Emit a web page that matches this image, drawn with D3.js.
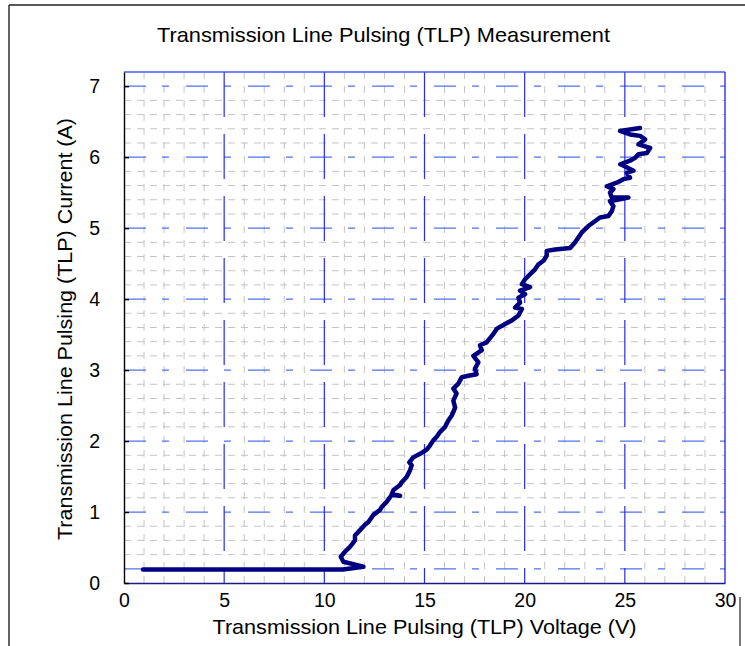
<!DOCTYPE html>
<html>
<head>
<meta charset="utf-8">
<script src="https://cdn.jsdelivr.net/npm/d3@7"></script>
<style>
  html, body { margin: 0; padding: 0; background: #fff; }
  svg { display: block; }
  text { font-family: "Liberation Sans", Arial, sans-serif; fill: #000; }
</style>
</head>
<body>
<svg id="chart" width="745" height="646"></svg>
<script>
// ---- data ----
const voltage = [0.95, 10.93, 11.95, 10.95, 10.82, 11.03, 11.28, 11.53, 11.53, 11.70, 12.03, 12.2, 12.45, 12.78, 12.86, 13.1, 13.36, 13.78, 13.36, 13.45, 13.78, 13.86, 14.1, 14.28, 14.36, 14.24, 14.44, 14.78, 15.11, 15.28, 15.44, 15.61, 15.78, 16.03, 16.19, 16.36, 16.53, 16.44, 16.6, 16.44, 16.69, 16.86, 17.19, 17.6, 17.52, 17.69, 17.44, 17.86, 17.77, 18.1, 18.44, 18.6, 19.02, 19.36, 19.69, 19.86, 19.52, 19.77, 19.69, 20.02, 19.77, 20.27, 19.86, 20.02, 20.27, 20.52, 20.69, 20.94, 21.1, 21.1, 21.52, 22.27, 22.52, 22.85, 23.18, 23.52, 23.76, 24.18, 24.35, 24.43, 24.26, 25.18, 24.35, 24.26, 24.43, 24.1, 24.6, 24.93, 25.26, 25.1, 25.43, 24.94, 24.77, 25.26, 25.51, 25.68, 26.1, 26.26, 25.93, 25.68, 26.01, 25.76, 25.26, 24.76, 25.26, 25.76];
const current = [0.19, 0.19, 0.23, 0.30, 0.37, 0.44, 0.51, 0.60, 0.67, 0.72, 0.82, 0.86, 0.96, 1.03, 1.07, 1.14, 1.24, 1.23, 1.25, 1.31, 1.38, 1.42, 1.49, 1.59, 1.66, 1.70, 1.77, 1.82, 1.88, 1.94, 2.01, 2.06, 2.13, 2.20, 2.29, 2.36, 2.47, 2.57, 2.67, 2.74, 2.81, 2.90, 2.92, 2.94, 3.02, 3.11, 3.20, 3.28, 3.35, 3.39, 3.51, 3.58, 3.65, 3.70, 3.77, 3.86, 3.88, 3.95, 4.02, 4.07, 4.12, 4.17, 4.21, 4.28, 4.35, 4.42, 4.49, 4.54, 4.61, 4.68, 4.70, 4.72, 4.80, 4.94, 5.03, 5.10, 5.15, 5.17, 5.24, 5.31, 5.38, 5.43, 5.43, 5.50, 5.55, 5.59, 5.64, 5.69, 5.71, 5.78, 5.81, 5.88, 5.90, 5.95, 5.99, 6.04, 6.06, 6.13, 6.16, 6.18, 6.25, 6.30, 6.32, 6.37, 6.39, 6.41];
const xTicks = [0, 5, 10, 15, 20, 25, 30];
const yTicks = [0, 1, 2, 3, 4, 5, 6, 7];
const xMajorGrid = [5, 10, 15, 20, 25];
const yMajorGrid = [0.2, 1, 2, 3, 4, 5, 6, 7];
const titleText = "Transmission Line Pulsing (TLP) Measurement";
const xLabelText = "Transmission Line Pulsing (TLP) Voltage (V)";
const yLabelText = "Transmission Line Pulsing (TLP) Current (A)";

// ---- layout ----
const L = 124, R = 725, T = 72, B = 583;
const svg = d3.select("#chart");
const x = d3.scaleLinear().domain([0, 30]).range([L, R]);
const y = d3.scaleLinear().domain([0, 7.2]).range([B, T]);

// outer frame
svg.append("line").attr("x1", 9).attr("x2", 9).attr("y1", 5).attr("y2", 646)
  .attr("stroke", "#222").attr("stroke-width", 1.4);
svg.append("line").attr("x1", 9).attr("x2", 745).attr("y1", 5).attr("y2", 5)
  .attr("stroke", "#222").attr("stroke-width", 1.4);
svg.append("line").attr("x1", 740).attr("x2", 740).attr("y1", 597).attr("y2", 646)
  .attr("stroke", "#222").attr("stroke-width", 1.2);

// minor grid (gray dashed)
const xMinor = d3.range(1, 30).filter(v => v % 5 !== 0);
const yMinor = d3.range(1, 36).map(k => k * 0.2).filter(v => Math.abs(v - Math.round(v)) > 0.01 && Math.abs(v - 0.2) > 0.01);
const grid = svg.append("g");
grid.selectAll("line.vmin").data(xMinor).join("line")
  .attr("x1", d => x(d)).attr("x2", d => x(d)).attr("y1", T).attr("y2", B)
  .attr("stroke", "#c4c4c4").attr("stroke-width", 1).attr("stroke-dasharray", "7,7");
grid.selectAll("line.hmin").data(yMinor).join("line")
  .attr("x1", L).attr("x2", R).attr("y1", d => y(d)).attr("y2", d => y(d))
  .attr("stroke", "#c4c4c4").attr("stroke-width", 1).attr("stroke-dasharray", "7,6");

// major grid (blue)
grid.selectAll("line.hmaj").data(yMajorGrid).join("line")
  .attr("x1", L).attr("x2", R).attr("y1", d => y(d)).attr("y2", d => y(d))
  .attr("stroke", "#5070f0").attr("stroke-width", 1.2).attr("stroke-dasharray", "22,16,7,17");
grid.selectAll("line.vmaj").data(xMajorGrid).join("line")
  .attr("x1", d => x(d)).attr("x2", d => x(d)).attr("y1", T).attr("y2", B)
  .attr("stroke", "#2a2af0").attr("stroke-width", 1.2).attr("stroke-dasharray", "45,17");

// plot border
svg.append("line").attr("x1", L).attr("x2", R).attr("y1", T).attr("y2", T)
  .attr("stroke", "#4a5cf0").attr("stroke-width", 1.6);
svg.append("line").attr("x1", R).attr("x2", R).attr("y1", T).attr("y2", B)
  .attr("stroke", "#2020f0").attr("stroke-width", 1.3);

// data curve
const pts = voltage.map((v, i) => [v, current[i]]);
svg.append("path").datum(pts)
  .attr("d", d3.line().x(d => x(d[0])).y(d => y(d[1])))
  .attr("fill", "none").attr("stroke", "#000080").attr("stroke-width", 4.5)
  .attr("stroke-linejoin", "round").attr("stroke-linecap", "round");

// axes
const xAxis = d3.axisBottom(x).tickValues(xTicks).tickSize(0).tickPadding(10).tickFormat(d3.format("d"));
const gx = svg.append("g").attr("transform", `translate(0,${B})`).call(xAxis);
gx.select(".domain").attr("stroke", "#1a1a8a").attr("stroke-width", 1.4);
gx.selectAll("text").attr("font-size", "19.5px").attr("font-family", "Liberation Sans, Arial, sans-serif");

const yAxis = d3.axisLeft(y).tickValues(yTicks).tickSizeInner(-5).tickSizeOuter(0).tickPadding(24).tickFormat(d3.format("d"));
const gy = svg.append("g").attr("transform", `translate(${L},0)`).call(yAxis);
gy.select(".domain").attr("stroke", "#000").attr("stroke-width", 1.4);
gy.selectAll(".tick line").attr("stroke", "#000").attr("stroke-width", 1.4);
gy.selectAll("text").attr("font-size", "19.5px").attr("font-family", "Liberation Sans, Arial, sans-serif");

// titles
svg.append("text").attr("x", 383.5).attr("y", 42).attr("text-anchor", "middle")
  .attr("font-size", "21px").attr("textLength", 453).attr("lengthAdjust", "spacingAndGlyphs")
  .text(titleText);
svg.append("text").attr("x", 424.5).attr("y", 634).attr("text-anchor", "middle")
  .attr("font-size", "21px").attr("textLength", 424).attr("lengthAdjust", "spacingAndGlyphs")
  .text(xLabelText);
svg.append("text").attr("transform", "translate(72,329) rotate(-90)").attr("text-anchor", "middle")
  .attr("font-size", "21px").attr("textLength", 422).attr("lengthAdjust", "spacingAndGlyphs")
  .text(yLabelText);
</script>
</body>
</html>
